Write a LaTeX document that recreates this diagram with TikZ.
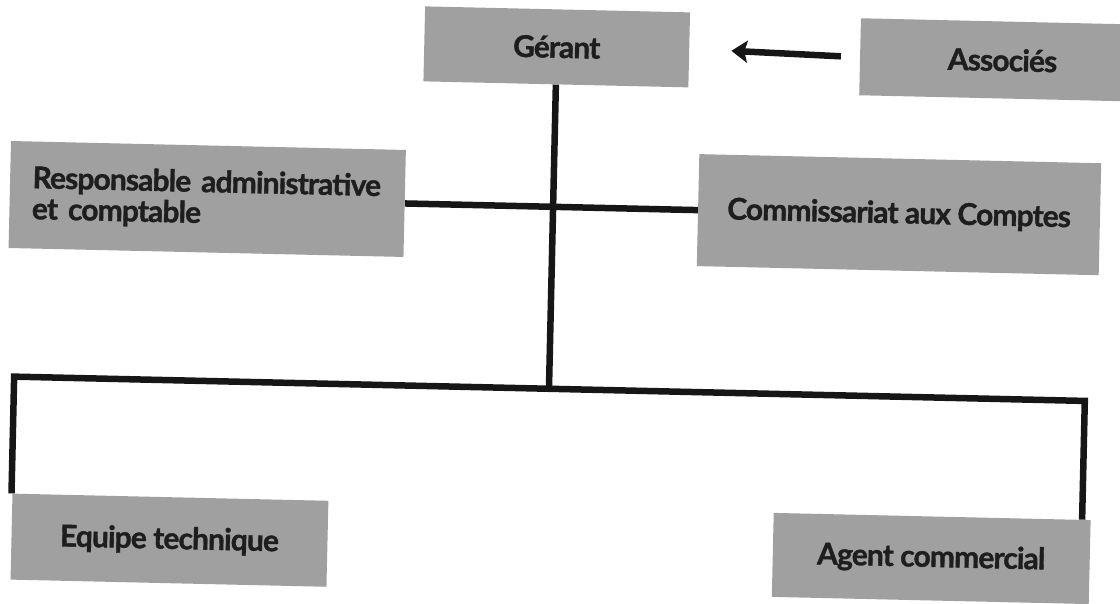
\documentclass[tikz,border=0pt]{standalone}
\usepackage{fontspec}
\setmainfont{Lato}[LetterSpace=-3, BoldFeatures={FakeBold=1.2}]
\usetikzlibrary{arrows.meta}
\definecolor{boxgray}{HTML}{A0A0A0}
\definecolor{ink}{HTML}{1E1E1E}
\definecolor{wirecol}{HTML}{161616}
\begin{document}
\begin{tikzpicture}[x=1pt,y=-1pt,
  orgbox/.style={rectangle, fill=boxgray, draw=none, inner sep=0pt, text=ink,
    font=\bfseries\fontsize{30}{31}\selectfont},
  wire/.style={draw=wirecol, line width=6.5pt, line join=miter}]
\useasboundingbox (0,0) rectangle (1120,603);
\clip (0,0) rectangle (1120,603);
\begin{scope}[rotate around={-1.3:(560,300)}, transform shape]
  % boxes
  \node[orgbox, minimum width=265pt, minimum height=75pt] (gerant) at (551,47) {Gérant};
  \node[orgbox, minimum width=285pt, minimum height=77pt] (assoc) at (997,50) {Associés};
  \node[orgbox, minimum width=395pt, minimum height=107pt, text width=350pt,
        inner xsep=22pt, align=left] (resp) at (205,207)
        {Responsable administrative\\et comptable};
  \node[orgbox, minimum width=402pt, minimum height=112pt] (comm) at (897,207) {Commissariat aux Comptes};
  \node[orgbox, minimum width=316pt, minimum height=86pt] (equipe) at (175,549) {Equipe technique};
  \node[orgbox, minimum width=317pt, minimum height=84pt] (agent) at (937,550) {Agent commercial};
  % junction points of the lower bar
  \coordinate (tee) at (551,389);
  \coordinate (barL) at (16,389);
  \coordinate (barR) at (1087,389);
  % connectors
  \draw[wire, -{Stealth[length=16pt, width=22pt, inset=3pt]}]
    ([xshift=-19pt]assoc.west) -- ([xshift=42pt]gerant.east);
  \draw[wire] (gerant.south) -- (tee);
  \draw[wire] (resp.east) -- (comm.west);
  \draw[wire] (equipe.north -| barL) -- (barL) -- (barR) -- (barR |- agent.north);
\end{scope}
\end{tikzpicture}
\end{document}
